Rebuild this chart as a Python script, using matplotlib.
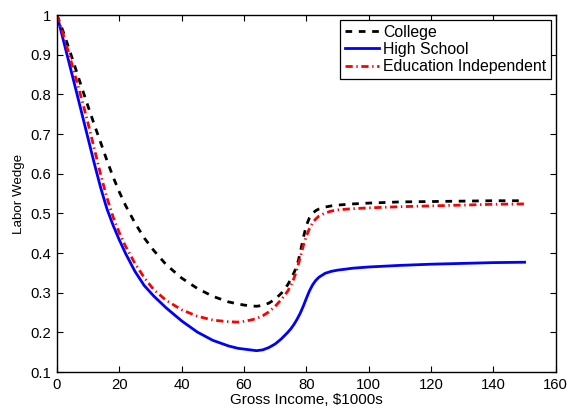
import matplotlib.pyplot as plt

plt.rcParams['font.family'] = ['Liberation Sans', 'DejaVu Sans']

# gross income grid, $1000s
income = [0, 2, 4, 6, 8, 10, 12, 14, 16, 18, 20, 22, 25, 28, 31, 35, 40, 45, 50,
          55, 58, 60, 62, 64, 66, 68, 70, 72, 74, 75, 76, 77, 78, 79, 80, 81, 82,
          83, 84, 86, 88, 90, 95, 100, 110, 120, 130, 140, 150]

wedge_college = [1.0, 0.958, 0.912, 0.864, 0.816, 0.769, 0.723, 0.679, 0.634,
                 0.592, 0.554, 0.520, 0.476, 0.438, 0.407, 0.371, 0.337, 0.311,
                 0.291, 0.277, 0.272, 0.269, 0.267, 0.266, 0.268, 0.274, 0.284,
                 0.299, 0.320, 0.334, 0.350, 0.368, 0.400, 0.438, 0.470, 0.489,
                 0.500, 0.507, 0.511, 0.516, 0.519, 0.521, 0.524, 0.526, 0.529,
                 0.530, 0.531, 0.532, 0.532]

wedge_highschool = [1.0, 0.938, 0.876, 0.814, 0.751, 0.688, 0.625, 0.565, 0.512,
                    0.470, 0.433, 0.399, 0.354, 0.318, 0.292, 0.262, 0.229, 0.201,
                    0.180, 0.166, 0.160, 0.158, 0.156, 0.154, 0.156, 0.162, 0.171,
                    0.184, 0.200, 0.209, 0.220, 0.233, 0.248, 0.266, 0.286, 0.305,
                    0.320, 0.331, 0.339, 0.349, 0.354, 0.357, 0.362, 0.365, 0.369,
                    0.372, 0.374, 0.376, 0.377]

wedge_indep = [1.0, 0.951, 0.898, 0.842, 0.786, 0.726, 0.662, 0.598, 0.540,
               0.491, 0.451, 0.417, 0.374, 0.338, 0.308, 0.281, 0.257, 0.241,
               0.231, 0.227, 0.226, 0.228, 0.231, 0.235, 0.242, 0.252, 0.266,
               0.283, 0.304, 0.318, 0.336, 0.360, 0.388, 0.418, 0.443, 0.462,
               0.476, 0.486, 0.493, 0.501, 0.506, 0.509, 0.512, 0.514, 0.517,
               0.519, 0.521, 0.523, 0.524]

fig = plt.figure(figsize=(5.7, 4.08), dpi=100)
ax = fig.add_axes([0.1, 0.088, 0.875, 0.875])

ax.plot(income, wedge_college, color='k', linestyle=(0, (2.4, 2.4)), lw=2, label='College')
ax.plot(income, wedge_highschool, color='b', linestyle='-', lw=2, label='High School')
ax.plot(income, wedge_indep, color='r', linestyle=(0, (2.6, 1.3, 0.5, 1.3)), lw=2,
        label='Education Independent')

ax.set_xlim(0, 160)
ax.set_ylim(0.1, 1)
ax.set_xticks(range(0, 161, 20))
yt = [0.1, 0.2, 0.3, 0.4, 0.5, 0.6, 0.7, 0.8, 0.9, 1.0]
ax.set_yticks(yt)
ax.set_yticklabels(['0.1', '0.2', '0.3', '0.4', '0.5', '0.6', '0.7', '0.8', '0.9', '1'])

ax.tick_params(direction='in', top=True, right=True, length=4, width=0.8,
               labelsize=10.7, pad=4)
for s in ax.spines.values():
    s.set_linewidth(1.0)

ax.set_xlabel('Gross Income, \\$1000s', fontsize=11, labelpad=1)
ax.set_ylabel('Labor Wedge', fontsize=9.6, labelpad=4)

leg = ax.legend(loc='upper right', fontsize=11.4, handlelength=2.15, handletextpad=0.25,
                borderaxespad=0.3, borderpad=0.3, labelspacing=0.15, fancybox=False,
                framealpha=1, edgecolor='k')
leg.get_frame().set_linewidth(0.9)

fig.savefig('out.png', dpi=100)
